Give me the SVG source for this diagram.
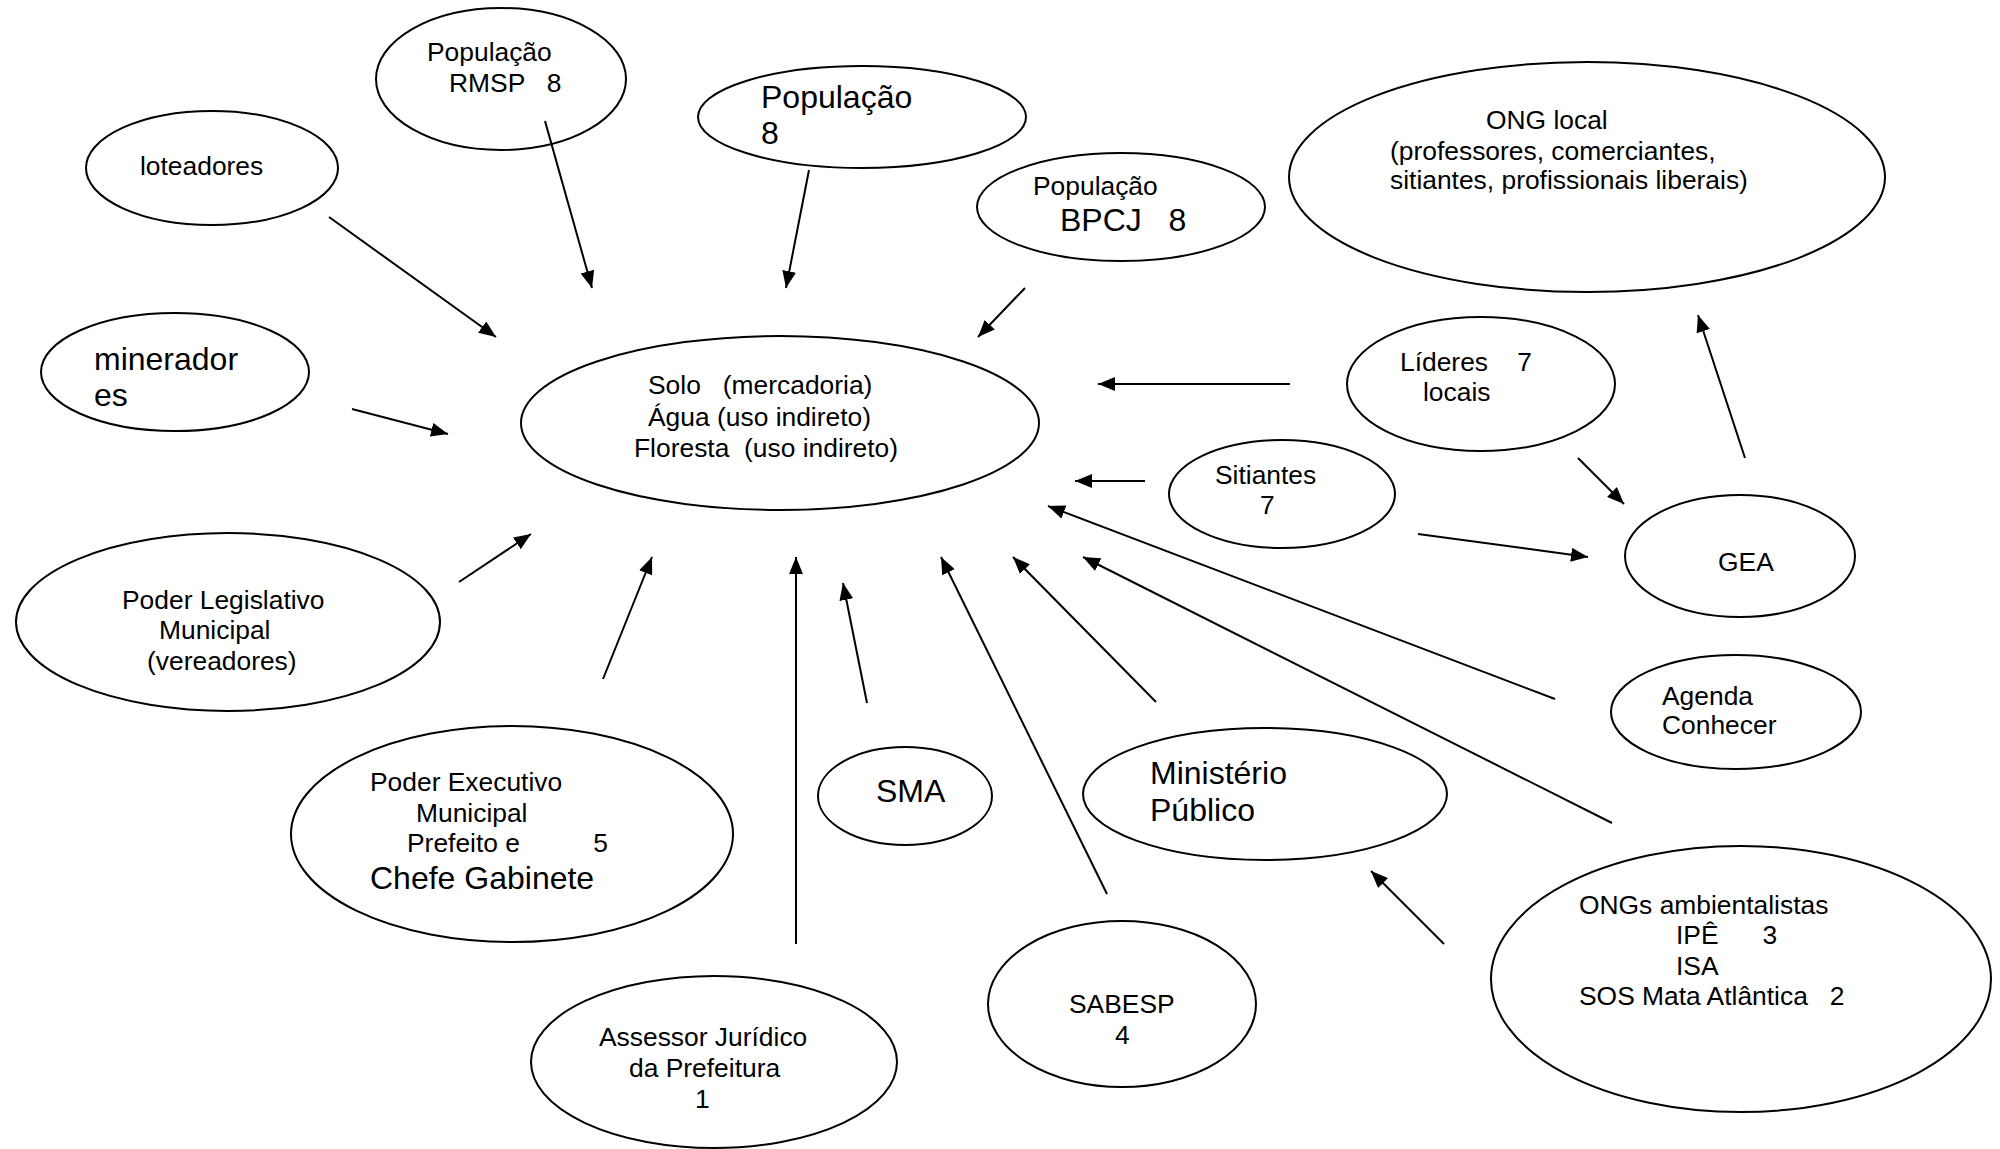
<svg xmlns="http://www.w3.org/2000/svg" width="2000" height="1149" viewBox="0 0 2000 1149">
<style>
.n ellipse{fill:#fff;stroke:#000;stroke-width:2}
text{font-family:"Liberation Sans",Arial,sans-serif;font-size:26.4px;fill:#000;white-space:pre}
.b{font-size:32px}
.c line{stroke:#000;stroke-width:2;marker-end:url(#ah)}
</style>
<defs>
<marker id="ah" markerUnits="userSpaceOnUse" markerWidth="18" markerHeight="14" refX="17" refY="7" orient="auto">
<path d="M0,0 L17,7 L0,14 z" fill="#000"/>
</marker>
</defs>
<rect width="2000" height="1149" fill="#fff"/>
<g class="n" id="pop-rmsp"><ellipse cx="501" cy="79" rx="125" ry="71"/><text x="427" y="61">População</text><text x="449" y="92">RMSP   8</text></g>
<g class="n" id="pop"><ellipse cx="862" cy="117" rx="164" ry="51"/><text class="b" x="761" y="108">População</text><text class="b" x="761" y="144">8</text></g>
<g class="n" id="pop-bpcj"><ellipse cx="1121" cy="207" rx="144" ry="54"/><text x="1033" y="195">População</text><text class="b" x="1060" y="231">BPCJ   8</text></g>
<g class="n" id="loteadores"><ellipse cx="212" cy="168" rx="126" ry="57"/><text x="140" y="175">loteadores</text></g>
<g class="n" id="ong-local"><ellipse cx="1587" cy="177" rx="298" ry="115"/><text x="1486" y="129">ONG local</text><text x="1390" y="160">(professores, comerciantes,</text><text x="1390" y="189">sitiantes, profissionais liberais)</text></g>
<g class="n" id="mineradores"><ellipse cx="175" cy="372" rx="134" ry="59"/><text class="b" x="94" y="370">minerador</text><text class="b" x="94" y="406">es</text></g>
<g class="n" id="solo"><ellipse cx="780" cy="423" rx="259" ry="87"/><text x="648" y="394">Solo   (mercadoria)</text><text x="648" y="426">Água (uso indireto)</text><text x="634" y="457">Floresta  (uso indireto)</text></g>
<g class="n" id="lideres"><ellipse cx="1481" cy="384" rx="134" ry="67"/><text x="1400" y="371">Líderes    7</text><text x="1423" y="401">locais</text></g>
<g class="n" id="sitiantes"><ellipse cx="1282" cy="494" rx="113" ry="54"/><text x="1215" y="484">Sitiantes</text><text x="1260" y="514">7</text></g>
<g class="n" id="gea"><ellipse cx="1740" cy="556" rx="115" ry="61"/><text x="1718" y="571">GEA</text></g>
<g class="n" id="legislativo"><ellipse cx="228" cy="622" rx="212" ry="89"/><text x="122" y="609">Poder Legislativo</text><text x="159" y="639">Municipal</text><text x="147" y="670">(vereadores)</text></g>
<g class="n" id="agenda"><ellipse cx="1736" cy="712" rx="125" ry="57"/><text x="1662" y="705">Agenda</text><text x="1662" y="734">Conhecer</text></g>
<g class="n" id="executivo"><ellipse cx="512" cy="834" rx="221" ry="108"/><text x="370" y="791">Poder Executivo</text><text x="416" y="822">Municipal</text><text x="407" y="852">Prefeito e          5</text><text class="b" x="370" y="889">Chefe Gabinete</text></g>
<g class="n" id="sma"><ellipse cx="905" cy="796" rx="87" ry="49"/><text class="b" x="876" y="802">SMA</text></g>
<g class="n" id="ministerio"><ellipse cx="1265" cy="794" rx="182" ry="66"/><text class="b" x="1150" y="784">Ministério</text><text class="b" x="1150" y="821">Público</text></g>
<g class="n" id="ongs"><ellipse cx="1741" cy="979" rx="250" ry="133"/><text x="1579" y="914">ONGs ambientalistas</text><text x="1676" y="944">IPÊ      3</text><text x="1676" y="975">ISA</text><text x="1579" y="1005">SOS Mata Atlântica   2</text></g>
<g class="n" id="sabesp"><ellipse cx="1122" cy="1004" rx="134" ry="83"/><text x="1069" y="1013">SABESP</text><text x="1115" y="1044">4</text></g>
<g class="n" id="assessor"><ellipse cx="714" cy="1062" rx="183" ry="86"/><text x="599" y="1046">Assessor Jurídico</text><text x="629" y="1077">da Prefeitura</text><text x="695" y="1108">1</text></g>
<g class="c" id="connectors">
<line x1="545" y1="121" x2="592" y2="288"/>
<line x1="809" y1="170" x2="786" y2="288"/>
<line x1="1025" y1="288" x2="978" y2="337"/>
<line x1="329" y1="217" x2="496" y2="337"/>
<line x1="352" y1="409" x2="448" y2="434"/>
<line x1="1290" y1="384" x2="1098" y2="384"/>
<line x1="1145" y1="481" x2="1075" y2="481"/>
<line x1="1578" y1="458" x2="1624" y2="504"/>
<line x1="1418" y1="534" x2="1588" y2="557"/>
<line x1="1745" y1="458" x2="1698" y2="315"/>
<line x1="459" y1="582" x2="531" y2="534"/>
<line x1="603" y1="679" x2="652" y2="557"/>
<line x1="796" y1="944" x2="796" y2="557"/>
<line x1="867" y1="703" x2="843" y2="583"/>
<line x1="1107" y1="894" x2="941" y2="557"/>
<line x1="1156" y1="702" x2="1013" y2="557"/>
<line x1="1612" y1="823" x2="1083" y2="557"/>
<line x1="1555" y1="699" x2="1048" y2="506"/>
<line x1="1444" y1="944" x2="1371" y2="871"/>
</g>
</svg>
